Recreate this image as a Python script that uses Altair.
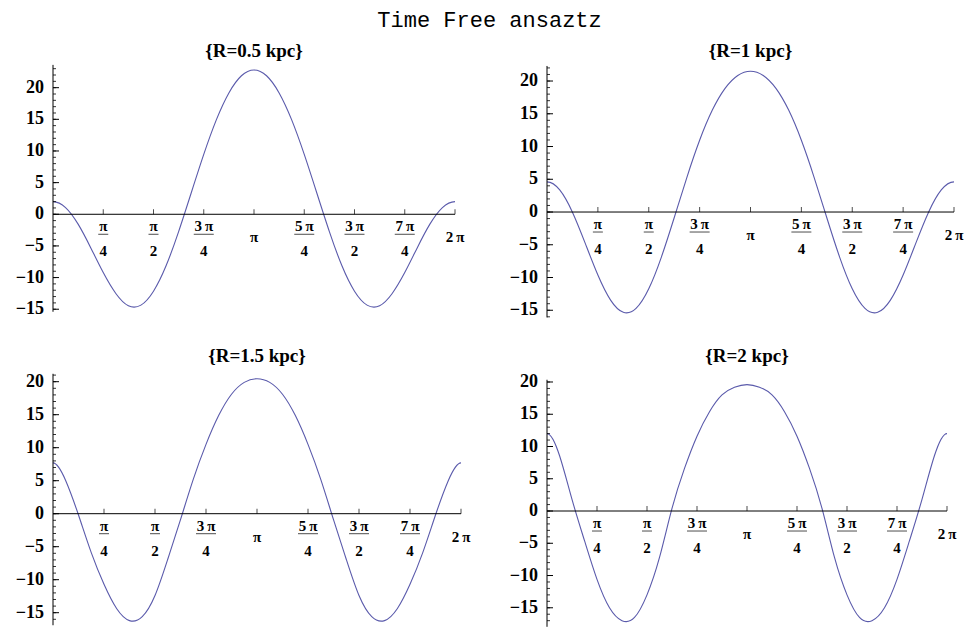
import math

import altair as alt
import pandas as pd

SERIF = "Liberation Serif"
MONO = "Liberation Mono"
CURVE = "#5a5aab"
TWO_PI = 2 * math.pi

# curve samples at theta = k*pi/16, k = -2..34 (one period plus a short wrap-around
# on each side, so the spline has no artificial end conditions inside the plot)
K = list(range(-2, 35))

R05 = [-1.56, 1.06,
       2.0, 1.06, -1.56, -5.27, -9.21, -12.51, -14.45, -14.35, -12.15, -8.14, -2.74,
       3.36, 9.46, 14.91, 19.17, 21.88, 22.8, 21.88, 19.17, 14.91, 9.46, 3.36, -2.74,
       -8.14, -12.15, -14.35, -14.45, -12.51, -9.21, -5.27, -1.56, 1.06, 2.0,
       1.06, -1.56]

R10 = [-0.03, 3.37,
       4.6, 3.37, -0.03, -4.75, -9.62, -13.45, -15.31, -14.71, -11.72, -6.84, -0.88,
       5.30, 10.95, 15.56, 18.88, 20.85, 21.5, 20.85, 18.88, 15.56, 10.95, 5.30, -0.88,
       -6.84, -11.72, -14.71, -15.31, -13.45, -9.62, -4.75, -0.03, 3.37, 4.6,
       3.37, -0.03]

R15 = [-0.2, 5.0,
       7.7, 5.0, -0.2, -5.9, -10.7, -14.4, -16.2, -15.6, -12.4, -6.9, -0.9,
       5.2, 10.5, 14.9, 18.1, 19.9, 20.45, 19.9, 18.1, 14.9, 10.5, 5.2, -0.9,
       -6.9, -12.4, -15.6, -16.2, -14.4, -10.7, -5.9, -0.2, 5.0, 7.7,
       5.0, -0.2]

R20 = [1.8, 8.6,
       12.0, 8.6, 1.8, -4.6, -10.6, -15.0, -17.0, -16.5, -13.0, -7.2, 0.4,
       6.6, 11.6, 15.4, 18.0, 19.2, 19.6, 19.2, 18.0, 15.4, 11.6, 6.6, 0.4,
       -7.2, -13.0, -16.5, -17.0, -15.0, -10.6, -4.6, 1.8, 8.6, 12.0,
       8.6, 1.8]

# x ticks at j*pi/4, j = 1..8, written as stacked fractions
TICK_J = [1, 2, 3, 4, 5, 6, 7, 8]
TICK_NUM = ["\u03c0", "\u03c0", "3\u2009\u03c0", "", "5\u2009\u03c0", "3\u2009\u03c0", "7\u2009\u03c0", ""]
TICK_DEN = ["4", "2", "4", "", "4", "2", "4", ""]
TICK_WHOLE = ["", "", "", "\u03c0", "", "", "", "2\u2009\u03c0"]

CELL_H = 257
PANELS = [
    # label, samples, scale domain, axis extent, width, title gap
    ("{R=0.5 kpc}", R05, [-16.86, 23.74], [-15.4, 23.6], 402, 3),
    ("{R=1 kpc}", R10, [-16.64, 22.60], [-16.1, 22.3], 407, 3),
    ("{R=1.5 kpc}", R15, [-17.47, 21.47], [-16.9, 21.2], 408, 6),
    ("{R=2 kpc}", R20, [-18.29, 21.55], [-17.95, 20.35], 400, 6),
]


def panel(label, vals, dom, ax, w, gap):
    xs = alt.Scale(domain=[0, TWO_PI], nice=False, zero=False)
    ys = alt.Scale(domain=dom, nice=False, zero=False)

    def X(f):
        return alt.X(f, type="quantitative", scale=xs, axis=None)

    def Y(f):
        return alt.Y(f, type="quantitative", scale=ys, axis=None)

    curve = (
        alt.Chart(pd.DataFrame({"k": K, "v": vals}))
        .transform_calculate(t="datum.k * PI / 16")
        .mark_line(color=CURVE, strokeWidth=1.1, interpolate="natural", clip=True)
        .encode(x=X("t"), y=Y("v"))
    )

    yaxis = (
        alt.Chart(pd.DataFrame({"x": [0.0], "lo": [ax[0]], "hi": [ax[1]]}))
        .mark_rule(color="black", strokeWidth=1)
        .encode(x=X("x"), y=Y("lo"), y2="hi:Q")
    )
    xaxis = (
        alt.Chart(pd.DataFrame({"x0": [0.0], "x1": [TWO_PI], "y": [0.0]}))
        .mark_rule(color="black", strokeWidth=1)
        .encode(x=X("x0"), x2="x1:Q", y=Y("y"))
    )

    yt = pd.DataFrame({"v": list(range(math.ceil(ax[0]), math.floor(ax[1]) + 1))})
    minor = (
        alt.Chart(yt)
        .mark_rule(color="black", strokeWidth=0.8)
        .encode(x=alt.value(0), x2=alt.value(3), y=Y("v"))
    )
    major = (
        alt.Chart(yt)
        .transform_filter("datum.v % 5 == 0")
        .mark_rule(color="black", strokeWidth=1)
        .encode(x=alt.value(0), x2=alt.value(6), y=Y("v"))
    )
    ylab = (
        alt.Chart(yt)
        .transform_filter("datum.v % 5 == 0")
        .mark_text(align="right", baseline="middle", dx=-9, font=SERIF,
                   fontWeight="bold", fontSize=18, color="black")
        .encode(x=alt.value(0), y=Y("v"), text=alt.Text("v:Q"))
    )

    xl = pd.DataFrame({"j": TICK_J, "num": TICK_NUM, "den": TICK_DEN, "whole": TICK_WHOLE})
    xbase = alt.Chart(xl).transform_calculate(t="datum.j * PI / 4", z="0")
    xticks = xbase.mark_tick(orient="vertical", size=5, thickness=1, yOffset=-2.5,
                             color="black").encode(x=X("t"), y=Y("z"))
    txt = dict(align="center", font=SERIF, fontWeight="bold", fontSize=15, color="black")
    num = xbase.transform_filter("datum.num != ''").mark_text(
        baseline="alphabetic", dy=17, **txt).encode(x=X("t"), y=Y("z"), text="num:N")
    bar = (
        xbase.transform_filter("datum.num != ''")
        .transform_calculate(bw="length(datum.num) > 1 ? 20 : 10")
        .mark_tick(orient="horizontal", thickness=1, yOffset=20, color="black")
        .encode(x=X("t"), y=Y("z"), size=alt.Size("bw:Q", scale=None, legend=None))
    )
    den = xbase.transform_filter("datum.den != ''").mark_text(
        baseline="alphabetic", dy=42, **txt).encode(x=X("t"), y=Y("z"), text="den:N")
    whole = xbase.transform_filter("datum.whole != ''").mark_text(
        baseline="middle", dy=23, **txt).encode(x=X("t"), y=Y("z"), text="whole:N")

    return alt.layer(
        curve, yaxis, xaxis, minor, major, ylab, xticks, num, bar, den, whole
    ).properties(
        width=w, height=CELL_H,
        title=alt.TitleParams(label, font=SERIF, fontSize=19, fontWeight="bold",
                              anchor="middle", offset=gap, color="black"),
    )


p = [panel(*spec) for spec in PANELS]

chart = (
    alt.concat(
        *p, columns=2, spacing={"row": 51, "column": 86}, bounds="flush",
        title=alt.TitleParams("Time Free ansaztz", font=MONO, fontSize=22,
                              fontWeight="normal", anchor="middle", color="black",
                              offset=10, dx=0),
    )
    .properties(padding={"left": 15, "top": 9, "right": 0, "bottom": 0})
    .configure(background="white")
    .configure_view(strokeWidth=0, stroke=None)
)

chart.save("out.html", embed_options={"renderer": "svg", "actions": False})
